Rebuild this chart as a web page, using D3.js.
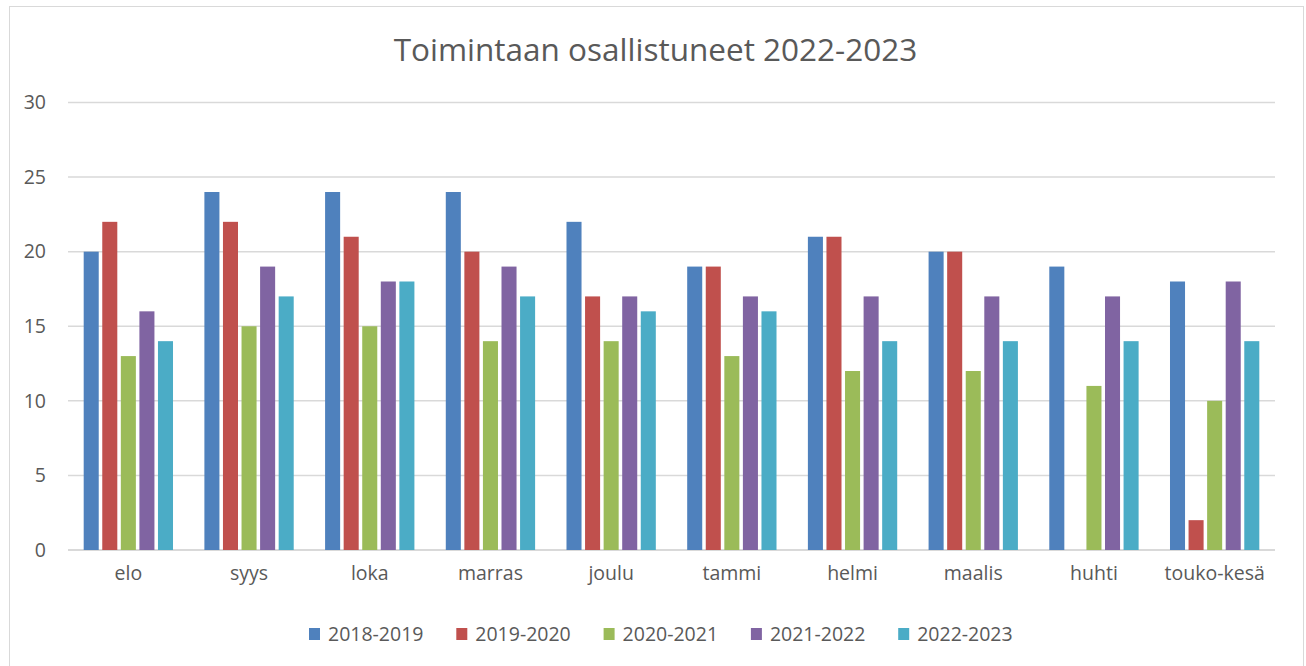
<!DOCTYPE html>
<html>
<head>
<meta charset="utf-8">
<script src="https://cdn.jsdelivr.net/npm/d3@7"></script>
<style>
  body { margin: 0; background: #fff; }
  text { font-family: "Open Sans", "Liberation Sans", sans-serif; fill: #595959; }
</style>
</head>
<body>
<script>
// data
var months = ["elo", "syys", "loka", "marras", "joulu", "tammi", "helmi", "maalis", "huhti", "touko-kesä"];
var seasons = ["2018-2019", "2019-2020", "2020-2021", "2021-2022", "2022-2023"];
var s2018 = [20, 24, 24, 24, 22, 19, 21, 20, 19, 18];
var s2019 = [22, 22, 21, 20, 17, 19, 21, 20, null, 2];
var s2020 = [13, 15, 15, 14, 14, 13, 12, 12, 11, 10];
var s2021 = [16, 19, 18, 19, 17, 17, 17, 17, 17, 18];
var s2022 = [14, 17, 18, 17, 16, 16, 14, 14, 14, 14];
var yTicks = [0, 5, 10, 15, 20, 25, 30];
var colors = ["#4f81bd", "#c0504d", "#9bbb59", "#8064a2", "#4bacc6"];

var allSeries = [s2018, s2019, s2020, s2021, s2022];

var W = 1306, H = 666;
var svg = d3.select("body").append("svg")
  .attr("width", W)
  .attr("height", H);

// chart frame
svg.append("rect")
  .attr("x", 9.5).attr("y", 6.5)
  .attr("width", 1294).attr("height", 670)
  .attr("fill", "#fff")
  .attr("stroke", "#d9d9d9");

var plot = {left: 68, right: 1275, top: 102.5, bottom: 550};

var x0 = d3.scaleBand()
  .domain(months)
  .range([plot.left, plot.right])
  .paddingInner(0.26)
  .paddingOuter(0.13);

var x1 = d3.scaleBand()
  .domain(seasons)
  .range([0, x0.bandwidth()])
  .paddingInner(0.19);

var y = d3.scaleLinear()
  .domain([0, 30])
  .range([plot.bottom, plot.top]);

var color = d3.scaleOrdinal().domain(seasons).range(colors);

// title
svg.append("text")
  .attr("x", 655.5)
  .attr("y", 61)
  .attr("text-anchor", "middle")
  .style("font-size", "31.5px")
  .text("Toimintaan osallistuneet 2022-2023");

// gridlines
svg.append("g").selectAll("line")
  .data(yTicks)
  .enter().append("line")
    .attr("x1", plot.left).attr("x2", plot.right)
    .attr("y1", function(d) { return y(d); })
    .attr("y2", function(d) { return y(d); })
    .attr("stroke", "#d9d9d9")
    .attr("stroke-width", function(d) { return d === 0 ? 2 : 1.5; });

// y axis labels
var yAxis = d3.axisLeft(y).tickValues(yTicks).tickSize(0).tickPadding(0);
svg.append("g")
  .attr("transform", "translate(46,0)")
  .call(yAxis)
  .call(function(g) { g.select(".domain").remove(); })
  .selectAll("text")
    .style("font-size", "19.5px")
    .attr("fill", "#595959");

// bars
var rows = months.map(function(m, i) {
  return {month: m, values: seasons.map(function(s, j) {
    return {season: s, value: allSeries[j][i]};
  })};
});

var groups = svg.append("g").selectAll("g")
  .data(rows)
  .enter().append("g")
    .attr("transform", function(d) { return "translate(" + x0(d.month) + ",0)"; });

groups.selectAll("rect")
  .data(function(d) { return d.values.filter(function(v) { return v.value != null; }); })
  .enter().append("rect")
    .attr("x", function(d) { return x1(d.season); })
    .attr("y", function(d) { return y(d.value); })
    .attr("width", x1.bandwidth())
    .attr("height", function(d) { return y(0) - y(d.value); })
    .attr("fill", function(d) { return color(d.season); });

// x axis labels
var xAxis = d3.axisBottom(x0).tickSize(0).tickPadding(0);
svg.append("g")
  .attr("transform", "translate(0," + (plot.bottom + 16) + ")")
  .call(xAxis)
  .call(function(g) { g.select(".domain").remove(); })
  .selectAll("text")
    .style("font-size", "19.5px")
    .attr("fill", "#595959");

// legend
var legend = svg.append("g").selectAll("g")
  .data(seasons)
  .enter().append("g")
    .attr("transform", function(d, i) { return "translate(" + (309 + i * 147.3) + ",628)"; });

legend.append("rect")
  .attr("width", 11).attr("height", 12)
  .attr("fill", function(d) { return color(d); });

legend.append("text")
  .attr("x", 19).attr("y", 13)
  .style("font-size", "19.5px")
  .text(function(d) { return d; });
</script>
</body>
</html>
